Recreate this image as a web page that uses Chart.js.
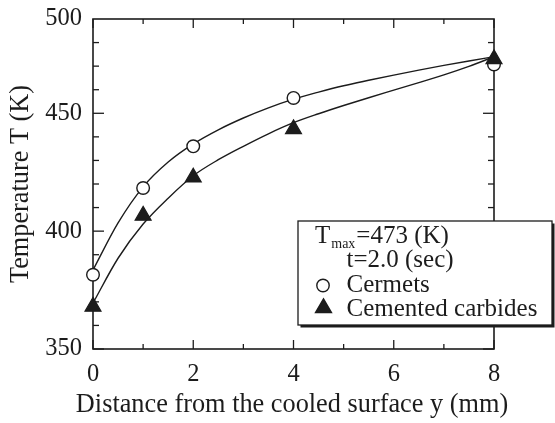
<!DOCTYPE html>
<html>
<head>
<meta charset="utf-8">
<script src="https://cdn.jsdelivr.net/npm/chart.js@4/dist/chart.umd.min.js"></script>
<style>
  html, body { margin: 0; padding: 0; background: #fff; }
  #wrap { width: 555px; height: 423px; position: relative; }
</style>
</head>
<body>
<div id="wrap"><canvas id="c" width="555" height="423"></canvas></div>
<script>
// Measured temperatures at each distance from the cooled surface
const distances = [0, 1, 2, 4, 8];
const cermetsT = [381.5, 418.3, 436, 456.5, 470.7];
const carbidesT = [368, 406.6, 422.8, 443.3, 473];

// Fitted curves drawn through the measurements
const fitDistances = [0, 0.5, 1, 1.5, 2, 2.5, 3, 3.5, 4, 4.5, 5, 5.5, 6, 6.5, 7, 7.5, 8];
const cermetsFitT = [383.5, 403.5, 418.8, 429.3, 437, 443, 448, 452.3, 456, 459, 461.7, 464, 466.2, 468.3, 470.3, 472.2, 474];
const carbidesFitT = [369.5, 388.5, 403, 414, 423.5, 430.3, 436, 441.3, 446, 449.8, 453.3, 456.6, 459.8, 463, 466.3, 469.9, 474];

// Axis ticks
const xMajorTicks = [0, 2, 4, 6, 8];
const xMinorTicks = [1, 3, 5, 7];
const xTickLabels = ['0', '2', '4', '6', '8'];
const yMajorTicks = [350, 400, 450];
const yMinorTicks = [360, 370, 380, 390, 410, 420, 430, 440, 460, 470, 480];
const yLabelTicks = [350, 400, 450, 490];
const yTickLabels = ['350', '400', '450', '500'];

// Axis titles and legend text
const xTitle = 'Distance from the cooled surface y (mm)';
const yTitle = 'Temperature T (K)';
const legendHeader = ['T', 'max', '=473 (K)'];
const legendSub = 't=2.0 (sec)';
const seriesNames = ['Cermets', 'Cemented carbides'];

const SERIF = '"Liberation Serif", "Times New Roman", serif';
const INK = '#1c1c1c';

const toXY = (xs, ys) => xs.map((x, i) => ({ x: x, y: ys[i] }));

// Frame with inward ticks on all four sides
const framePlugin = {
  id: 'frame',
  beforeDatasetsDraw(chart) {
    const { ctx, chartArea: a, scales } = chart;
    const xs = scales.x, ys = scales.y;
    ctx.save();
    ctx.strokeStyle = INK;
    ctx.lineWidth = 1.6;
    ctx.strokeRect(a.left, a.top, a.right - a.left, a.bottom - a.top);
    ctx.lineWidth = 1.3;
    const tick = (x1, y1, x2, y2) => { ctx.beginPath(); ctx.moveTo(x1, y1); ctx.lineTo(x2, y2); ctx.stroke(); };
    xMajorTicks.forEach(v => {
      const p = xs.getPixelForValue(v);
      tick(p, a.bottom, p, a.bottom - 9);
      tick(p, a.top, p, a.top + 9);
    });
    xMinorTicks.forEach(v => {
      const p = xs.getPixelForValue(v);
      tick(p, a.bottom, p, a.bottom - 5);
      tick(p, a.top, p, a.top + 5);
    });
    yMajorTicks.forEach(v => {
      const p = ys.getPixelForValue(v);
      tick(a.left, p, a.left + 11, p);
      tick(a.right, p, a.right - 11, p);
    });
    yMinorTicks.forEach(v => {
      const p = ys.getPixelForValue(v);
      tick(a.left, p, a.left + 6, p);
      tick(a.right, p, a.right - 6, p);
    });
    ctx.restore();
  }
};

// X-axis title drawn at its natural width (wider than the plot area)
const xTitlePlugin = {
  id: 'xTitle',
  afterDraw(chart) {
    const { ctx, scales } = chart;
    const xs = scales.x;
    ctx.save();
    ctx.fillStyle = INK;
    ctx.font = '26.3px ' + SERIF;
    ctx.textAlign = 'center';
    ctx.textBaseline = 'middle';
    ctx.fillText(xTitle, (xs.left + xs.right) / 2 - 1.5, 405);
    ctx.restore();
  }
};

function marker(ctx, style, x, y, r, fill) {
  ctx.save();
  ctx.lineWidth = 1.4;
  ctx.strokeStyle = INK;
  ctx.fillStyle = fill;
  ctx.beginPath();
  if (style === 'triangle') {
    ctx.moveTo(x, y - r);
    ctx.lineTo(x + r * Math.sin(2 * Math.PI / 3), y + r / 2);
    ctx.lineTo(x - r * Math.sin(2 * Math.PI / 3), y + r / 2);
    ctx.closePath();
  } else {
    ctx.arc(x, y, r, 0, Math.PI * 2);
  }
  ctx.fill();
  ctx.stroke();
  ctx.restore();
}

// Boxed legend with a drop shadow
const legendBoxPlugin = {
  id: 'legendBox',
  afterDatasetsDraw(chart) {
    const { ctx } = chart;
    const bx = 298, by = 221, bw = 254, bh = 104;
    ctx.save();
    ctx.fillStyle = INK;
    ctx.fillRect(bx + 2.5, by + 2.5, bw, bh);
    ctx.fillStyle = '#fff';
    ctx.fillRect(bx, by, bw, bh);
    ctx.strokeStyle = INK;
    ctx.lineWidth = 1.3;
    ctx.strokeRect(bx, by, bw, bh);

    ctx.fillStyle = INK;
    ctx.textBaseline = 'alphabetic';
    ctx.textAlign = 'left';
    ctx.font = '25px ' + SERIF;
    ctx.fillText(legendHeader[0], 315, 243);
    const tW = ctx.measureText(legendHeader[0]).width;
    ctx.font = '14px ' + SERIF;
    ctx.fillText(legendHeader[1], 315 + tW + 1, 247.5);
    const mW = ctx.measureText(legendHeader[1]).width;
    ctx.font = '25px ' + SERIF;
    ctx.fillText(legendHeader[2], 315 + tW + 1 + mW + 1, 243);
    ctx.fillText(legendSub, 346.5, 267);

    const ds = chart.data.datasets;
    const cer = ds.find(d => d.label === seriesNames[0]);
    const car = ds.find(d => d.label === seriesNames[1]);
    marker(ctx, cer.pointStyle, 323, 285.5, 6.2, cer.backgroundColor);
    ctx.fillStyle = INK;
    ctx.fillText(seriesNames[0], 346.5, 291.5);
    marker(ctx, car.pointStyle, 323.5, 308, 9.2, car.backgroundColor);
    ctx.fillStyle = INK;
    ctx.fillText(seriesNames[1], 346.5, 315.5);
    ctx.restore();
  }
};

new Chart(document.getElementById('c'), {
  type: 'scatter',
  data: {
    datasets: [
      {
        label: seriesNames[1],
        data: toXY(distances, carbidesT),
        pointStyle: 'triangle',
        pointRadius: 9.2,
        backgroundColor: INK,
        borderColor: INK,
        borderWidth: 1.2,
        showLine: false,
        clip: false
      },
      {
        label: seriesNames[0],
        data: toXY(distances, cermetsT),
        pointStyle: 'circle',
        pointRadius: 6.3,
        backgroundColor: '#ffffff',
        borderColor: INK,
        borderWidth: 1.4,
        showLine: false,
        clip: false
      },
      {
        label: 'cermets fit',
        data: toXY(fitDistances, cermetsFitT),
        showLine: true,
        pointRadius: 0,
        borderColor: INK,
        borderWidth: 1.4,
        cubicInterpolationMode: 'monotone',
        clip: false
      },
      {
        label: 'carbides fit',
        data: toXY(fitDistances, carbidesFitT),
        showLine: true,
        pointRadius: 0,
        borderColor: INK,
        borderWidth: 1.4,
        cubicInterpolationMode: 'monotone',
        clip: false
      }
    ]
  },
  options: {
    responsive: false,
    animation: false,
    events: [],
    layout: { padding: { left: 0, top: 19, right: 61, bottom: 0 } },
    plugins: { legend: { display: false }, tooltip: { enabled: false } },
    scales: {
      x: {
        type: 'linear',
        min: 0, max: 8,
        grid: { display: false, drawTicks: false },
        border: { display: false },
        afterBuildTicks: s => { s.ticks = xMajorTicks.map(v => ({ value: v })); },
        afterFit: s => { s.height = 74; s.paddingLeft = 0; s.paddingRight = 0; },
        ticks: {
          color: INK,
          padding: 11,
          maxRotation: 0,
          autoSkip: false,
          font: { family: SERIF, size: 24.5 },
          callback: v => xTickLabels[xMajorTicks.indexOf(v)]
        },
        title: { display: false, text: xTitle }
      },
      y: {
        type: 'linear',
        min: 350, max: 490,
        grid: { display: false, drawTicks: false },
        border: { display: false },
        afterBuildTicks: s => { s.ticks = yLabelTicks.map(v => ({ value: v })); },
        afterFit: s => { s.width = 93; s.paddingTop = 0; s.paddingBottom = 0; },
        ticks: {
          color: INK,
          padding: 11,
          autoSkip: false,
          font: { family: SERIF, size: 24.5 },
          callback: v => yTickLabels[yLabelTicks.indexOf(v)]
        },
        title: {
          display: true,
          text: yTitle,
          color: INK,
          font: { family: SERIF, size: 26.3 },
          padding: { top: 5, bottom: 0 }
        }
      }
    }
  },
  plugins: [framePlugin, legendBoxPlugin, xTitlePlugin]
});
</script>
</body>
</html>
